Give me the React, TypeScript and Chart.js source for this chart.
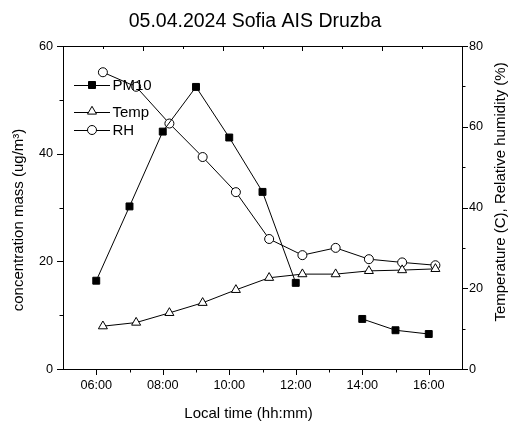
import React, { useEffect, useRef } from "react";
import { Chart, registerables } from "chart.js";

Chart.register(...registerables);

const TITLE = "05.04.2024 Sofia AIS Druzba";
const X_TITLE = "Local time (hh:mm)";
const Y_LEFT_TITLE = "concentration mass (ug/m\u00B3)";
const Y_RIGHT_TITLE = "Temperature (C), Relative humidity (%)";

// PM10 measured on the hour (13:00 missing)
const pmHours = [6, 7, 8, 9, 10, 11, 12, 13, 14, 15, 16];
const pm10 = [16.4, 30.2, 44.1, 52.4, 43.0, 32.9, 16.0, null, 9.3, 7.2, 6.5];

// Meteorological data measured ~12 minutes past the hour
const metHours = [6.2, 7.2, 8.2, 9.2, 10.2, 11.2, 12.2, 13.2, 14.2, 15.2, 16.2];
const temp = [10.6, 11.5, 13.9, 16.4, 19.6, 22.6, 23.5, 23.5, 24.3, 24.5, 24.8];
const rh = [73.5, 69.9, 60.8, 52.5, 43.8, 32.2, 28.2, 30.0, 27.2, 26.4, 25.7];

const xMajor = [6, 8, 10, 12, 14, 16];
const xMinor = [7, 9, 11, 13, 15];
const leftMajor = [0, 20, 40, 60];
const leftMinor = [10, 30, 50];
const rightMajor = [0, 20, 40, 60, 80];
const rightMinor = [10, 30, 50, 70];
const topMajor = [2, 4, 6, 8];
const topMinor = [1, 3, 5, 7, 9];

const legendItems = [
  { label: "PM10", style: "rect", fill: "#000", y: 85 },
  { label: "Temp", style: "triangle", fill: "#fff", y: 111.5 },
  { label: "RH", style: "circle", fill: "#fff", y: 130 },
];

const fmtHour = (v: number) => `${String(v).padStart(2, "0")}:00`;
const FONT = "Arial, 'Liberation Sans', sans-serif";

const tickPlugin = {
  id: "tickMarks",
  afterDraw(chart: any) {
    const ctx = chart.ctx;
    const { x, y, y2, xTop } = chart.scales;
    const ca = chart.chartArea;
    ctx.save();
    ctx.strokeStyle = "#000";
    ctx.lineWidth = 1;
    const seg = (x1: number, y1: number, x2: number, y3: number) => {
      ctx.beginPath();
      ctx.moveTo(x1, y1);
      ctx.lineTo(x2, y3);
      ctx.stroke();
    };
    const al = (p: number) => Math.round(p) + 0.5;
    xMajor.forEach((v) => { const p = al(x.getPixelForValue(v)); seg(p, ca.bottom, p, ca.bottom + 6); });
    xMinor.forEach((v) => { const p = al(x.getPixelForValue(v)); seg(p, ca.bottom, p, ca.bottom + 3.5); });
    leftMajor.forEach((v) => { const p = al(y.getPixelForValue(v)); seg(ca.left, p, ca.left - 6, p); });
    leftMinor.forEach((v) => { const p = al(y.getPixelForValue(v)); seg(ca.left, p, ca.left - 3.5, p); });
    rightMajor.forEach((v) => { const p = al(y2.getPixelForValue(v)); seg(ca.right, p, ca.right + 6, p); });
    rightMinor.forEach((v) => { const p = al(y2.getPixelForValue(v)); seg(ca.right, p, ca.right + 3.5, p); });
    topMajor.forEach((v) => { const p = al(xTop.getPixelForValue(v)); seg(p, ca.top, p, ca.top + 5); });
    topMinor.forEach((v) => { const p = al(xTop.getPixelForValue(v)); seg(p, ca.top, p, ca.top + 3); });
    ctx.restore();
  },
};

const textPlugin = {
  id: "texts",
  afterDraw(chart: any) {
    const ctx = chart.ctx;
    ctx.save();
    ctx.fillStyle = "#000";
    ctx.textAlign = "center";
    ctx.textBaseline = "middle";
    ctx.font = `19.5px ${FONT}`;
    ctx.fillText(TITLE, 255, 22);
    ctx.font = `15px ${FONT}`;
    ctx.fillText(X_TITLE, 248.5, 414);
    ctx.save();
    ctx.translate(18.5, 220);
    ctx.rotate(-Math.PI / 2);
    ctx.fillText(Y_LEFT_TITLE, 0, 0);
    ctx.restore();
    ctx.save();
    ctx.translate(500.5, 192);
    ctx.rotate(-Math.PI / 2);
    ctx.fillText(Y_RIGHT_TITLE, 0, 0);
    ctx.restore();

    // legend
    const lx0 = 74, lx1 = 110, mx = 92;
    legendItems.forEach((it) => {
      ctx.strokeStyle = "#000";
      ctx.lineWidth = 1;
      ctx.beginPath();
      ctx.moveTo(lx0, Math.round(it.y) + 0.5);
      ctx.lineTo(lx1, Math.round(it.y) + 0.5);
      ctx.stroke();
      ctx.fillStyle = it.fill;
      ctx.beginPath();
      if (it.style === "rect") {
        ctx.rect(mx - 3.5, it.y - 3.5, 7, 7);
      } else if (it.style === "circle") {
        ctx.arc(mx, it.y, 4.5, 0, Math.PI * 2);
      } else {
        const r = 5.2;
        ctx.moveTo(mx, it.y - r);
        ctx.lineTo(mx + r * 0.866, it.y + r / 2);
        ctx.lineTo(mx - r * 0.866, it.y + r / 2);
        ctx.closePath();
      }
      ctx.fill();
      ctx.stroke();
      ctx.fillStyle = "#000";
      ctx.textAlign = "left";
      ctx.font = `15px ${FONT}`;
      ctx.fillText(it.label, 112.5, it.y + 1);
    });
    ctx.restore();
  },
};

export default function App() {
  const ref = useRef<HTMLCanvasElement>(null);
  useEffect(() => {
    document.body.style.margin = "0";
    const canvas = ref.current;
    if (!canvas) return;
    const tickFont = { family: FONT, size: 12.7 };
    const chart = new Chart(canvas, {
      type: "line",
      data: {
        datasets: [
          {
            label: "PM10",
            data: pmHours.map((h, i) => ({ x: h, y: pm10[i] })) as any,
            yAxisID: "y",
            xAxisID: "x",
            borderColor: "#000",
            borderWidth: 1,
            pointStyle: "rect",
            pointRadius: 4.9,
            pointBackgroundColor: "#000",
            pointBorderColor: "#000",
            pointBorderWidth: 1,
            spanGaps: false,
            tension: 0,
          },
          {
            label: "Temp",
            data: metHours.map((h, i) => ({ x: h, y: temp[i] })),
            yAxisID: "y2",
            xAxisID: "x",
            borderColor: "#000",
            borderWidth: 1,
            pointStyle: "triangle",
            pointRadius: 5.2,
            pointBackgroundColor: "#fff",
            pointBorderColor: "#000",
            pointBorderWidth: 1,
            tension: 0,
          },
          {
            label: "RH",
            data: metHours.map((h, i) => ({ x: h, y: rh[i] })),
            yAxisID: "y2",
            xAxisID: "x",
            borderColor: "#000",
            borderWidth: 1,
            pointStyle: "circle",
            pointRadius: 4.5,
            pointBackgroundColor: "#fff",
            pointBorderColor: "#000",
            pointBorderWidth: 1,
            tension: 0,
          },
        ],
      },
      options: {
        responsive: false,
        animation: false,
        layout: { padding: 0 },
        plugins: {
          legend: { display: false },
          title: { display: false },
          tooltip: { enabled: false },
        },
        scales: {
          x: {
            type: "linear",
            position: "bottom",
            min: 5,
            max: 17,
            afterBuildTicks: (s: any) => { s.ticks = xMajor.map((v) => ({ value: v })); },
            afterFit: (s: any) => { s.height = 52; },
            ticks: {
              callback: (v: any) => fmtHour(Number(v)),
              font: tickFont,
              color: "#000",
              padding: 9,
              maxRotation: 0,
              autoSkip: false,
            },
            grid: { drawOnChartArea: false, drawTicks: false },
            border: { display: true, color: "#000", width: 1 },
          },
          xTop: {
            type: "linear",
            position: "top",
            min: 0,
            max: 10,
            ticks: { display: false },
            afterFit: (s: any) => { s.height = 46; },
            grid: { drawOnChartArea: false, drawTicks: false },
            border: { display: true, color: "#000", width: 1 },
          },
          y: {
            type: "linear",
            position: "left",
            min: 0,
            max: 60,
            afterBuildTicks: (s: any) => { s.ticks = leftMajor.map((v) => ({ value: v })); },
            afterFit: (s: any) => { s.width = 63; },
            ticks: { font: tickFont, color: "#000", padding: 10 },
            grid: { drawOnChartArea: false, drawTicks: false },
            border: { display: true, color: "#000", width: 1 },
          },
          y2: {
            type: "linear",
            position: "right",
            min: 0,
            max: 80,
            afterBuildTicks: (s: any) => { s.ticks = rightMajor.map((v) => ({ value: v })); },
            afterFit: (s: any) => { s.width = 50; },
            ticks: { font: tickFont, color: "#000", padding: 7 },
            grid: { drawOnChartArea: false, drawTicks: false },
            border: { display: true, color: "#000", width: 1 },
          },
        },
      } as any,
      plugins: [tickPlugin, textPlugin],
    });
    return () => chart.destroy();
  }, []);
  return (
    <div style={{ width: 512, height: 421, background: "#fff" }}>
      <canvas ref={ref} width={512} height={421} style={{ display: "block" }} />
    </div>
  );
}
